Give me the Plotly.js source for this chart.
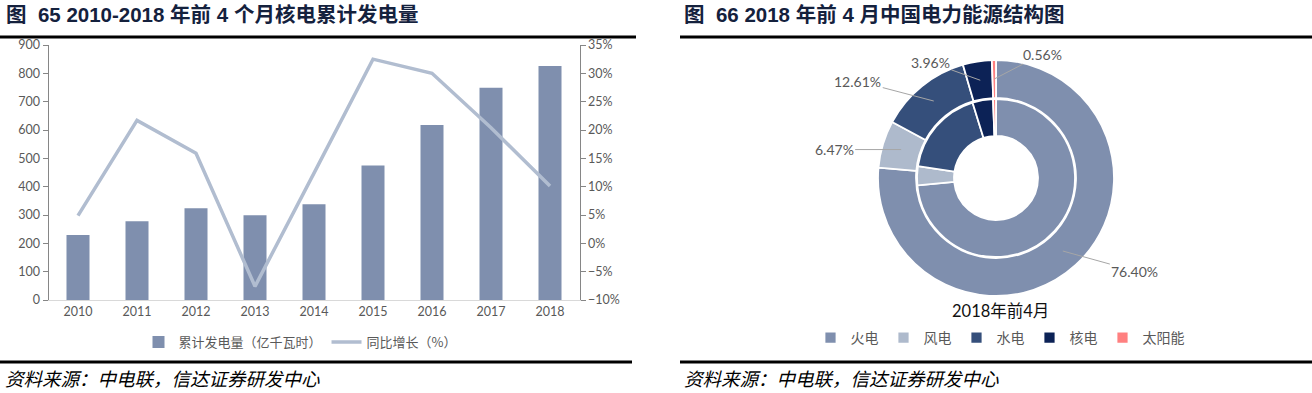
<!DOCTYPE html>
<html><head><meta charset="utf-8">
<script src="https://cdn.plot.ly/plotly-3.0.1.min.js"></script>
<style>html,body{margin:0;padding:0;background:#fff;}#chart{width:1312px;height:393px;}</style>
</head><body><div id="chart"></div>
<script>
// ---- data ----
const years = ['2010','2011','2012','2013','2014','2015','2016','2017','2018'];
const generation = [229, 278, 324, 299, 338, 475, 618, 749, 826];   // 亿千瓦时
const growth = [4.9, 21.7, 15.9, -7.6, 12.4, 32.5, 30.0, 20.4, 10.1]; // %
const sources = ['火电','风电','水电','核电','太阳能'];
const shareOuter = [76.40, 6.47, 12.61, 3.96, 0.56];
const shareInner = [73.5, 3.9, 17.8, 4.2, 0.6];
const barName = '累计发电量（亿千瓦时）';
const lineName = '同比增长（%）';
const leftTitle = '图  65 2010-2018 年前 4 个月核电累计发电量';
const rightTitle = '图  66 2018 年前 4 月中国电力能源结构图';
const pieSubtitle = '2018年前4月';
const sourceNote = '资料来源：中电联，信达证券研发中心';

// ---- style ----
const W = 1312, H = 393;
const sliceColors = ['#7f8fae', '#aebacc', '#354f7b', '#0c2256', '#ff8080'];
const cx = 996, cy = 178, rOut = 118, rMid = 80, rIn = 42;
const labelOffsets = [[72, 20], [-67, 0], [-76, -20], [-50, -18], [48, -25]];
const tickFont = {family: 'Lato, Liberation Sans, sans-serif', size: 12.5, color: '#595959'};
const px = x => x / W, py = y => 1 - y / H;

const traces = [
  {type: 'bar', x: years, y: generation, name: barName, marker: {color: '#7f8fae'},
   xaxis: 'x', yaxis: 'y', legend: 'legend'},
  {type: 'scatter', mode: 'lines', x: years, y: growth, name: lineName,
   line: {color: '#b1bdd0', width: 3.5}, xaxis: 'x', yaxis: 'y2', legend: 'legend'},
  {type: 'pie', labels: sources, values: shareOuter, sort: false, direction: 'clockwise', rotation: 0,
   hole: rMid / rOut, textinfo: 'none', hoverinfo: 'label+value',
   marker: {colors: sliceColors, line: {color: '#ffffff', width: 1.8}},
   domain: {x: [px(cx - rOut), px(cx + rOut)], y: [py(cy + rOut), py(cy - rOut)]},
   legend: 'legend2', showlegend: true},
  {type: 'pie', labels: sources, values: shareInner, sort: false, direction: 'clockwise', rotation: 0,
   hole: rIn / (rMid - 1), textinfo: 'none', hoverinfo: 'label+value',
   marker: {colors: sliceColors, line: {color: '#ffffff', width: 1.8}},
   domain: {x: [px(cx - rMid + 1), px(cx + rMid - 1)], y: [py(cy + rMid - 1), py(cy - rMid + 1)]},
   legend: 'legend2', showlegend: true}
];

// pie percentage labels, positioned from the data's slice angles
const annotations = [];
let cum = 0;
const total = shareOuter.reduce((a, b) => a + b, 0);
shareOuter.forEach((v, i) => {
  const theta = 2 * Math.PI * (cum + v / 2) / total;
  cum += v;
  const r = (rOut + rMid) / 2;
  annotations.push({
    xref: 'paper', yref: 'paper',
    x: px(cx + r * Math.sin(theta)), y: py(cy - r * Math.cos(theta)),
    ax: labelOffsets[i][0], ay: labelOffsets[i][1],
    text: v.toFixed(2) + '%', showarrow: true, arrowhead: 0, arrowwidth: 1, arrowcolor: '#a6a6a6',
    standoff: 0, font: {family: 'Lato, Liberation Sans, sans-serif', size: 14, color: '#595959'}
  });
});
const titleFont = {family: 'Liberation Sans, Noto Sans CJK SC', size: 20.5, color: '#14213d'};
const noteFont = {family: 'Noto Sans CJK SC', size: 18.5, color: '#000000', style: 'italic'};
annotations.push(
  {xref: 'paper', yref: 'paper', x: px(4), y: py(15), xanchor: 'left', yanchor: 'middle', showarrow: false,
   text: '<b>' + leftTitle + '</b>', font: titleFont},
  {xref: 'paper', yref: 'paper', x: px(682), y: py(15), xanchor: 'left', yanchor: 'middle', showarrow: false,
   text: '<b>' + rightTitle + '</b>', font: titleFont},
  {xref: 'paper', yref: 'paper', x: px(1000), y: py(311), xanchor: 'center', yanchor: 'middle', showarrow: false,
   text: pieSubtitle, font: {family: 'Lato, Noto Sans CJK SC', size: 16.5, color: '#111111'}},
  {xref: 'paper', yref: 'paper', x: px(3), y: py(378), xanchor: 'left', yanchor: 'middle', showarrow: false,
   text: '<i>' + sourceNote + '</i>', font: noteFont},
  {xref: 'paper', yref: 'paper', x: px(682), y: py(378), xanchor: 'left', yanchor: 'middle', showarrow: false,
   text: '<i>' + sourceNote + '</i>', font: noteFont}
);

const shapes = [
  {type: 'line', xref: 'paper', yref: 'paper', x0: 0, x1: px(636), y0: py(37), y1: py(37), line: {color: '#000', width: 3}},
  {type: 'line', xref: 'paper', yref: 'paper', x0: px(680), x1: 1, y0: py(37), y1: py(37), line: {color: '#000', width: 3}},
  {type: 'line', xref: 'paper', yref: 'paper', x0: 0, x1: px(632), y0: py(362), y1: py(362), line: {color: '#000', width: 3}},
  {type: 'line', xref: 'paper', yref: 'paper', x0: px(680), x1: 1, y0: py(362), y1: py(362), line: {color: '#000', width: 3}}
];

const layout = {
  width: W, height: H, margin: {l: 0, r: 0, t: 0, b: 0},
  paper_bgcolor: '#fff', plot_bgcolor: '#fff',
  bargap: 0.61,
  xaxis: {domain: [px(48.5), px(579.5)], type: 'category', showgrid: false, zeroline: false,
          showline: true, linecolor: '#d9d9d9', linewidth: 1, ticks: '', tickfont: tickFont, anchor: 'y'},
  yaxis: {domain: [py(300), py(45)], range: [0, 900], dtick: 100, showgrid: false, zeroline: false,
          showline: true, linecolor: '#868686', ticks: 'outside', ticklen: 5, tickcolor: '#868686',
          tickfont: tickFont, anchor: 'x'},
  yaxis2: {overlaying: 'y', side: 'right', range: [-10, 35], dtick: 5, ticksuffix: '%', showgrid: false,
           zeroline: false, showline: true, linecolor: '#868686', ticks: 'outside', ticklen: 5,
           tickcolor: '#868686', tickfont: tickFont, anchor: 'x'},
  legend: {orientation: 'h', x: px(300), xanchor: 'center', y: py(342), yanchor: 'middle', itemwidth: 30,
           font: {family: 'Noto Sans CJK SC', size: 13, color: '#595959'}, bgcolor: 'rgba(0,0,0,0)'},
  legend2: {orientation: 'h', x: px(1000), xanchor: 'center', y: py(338), yanchor: 'middle', itemwidth: 30,
            font: {family: 'Noto Sans CJK SC', size: 14, color: '#595959'}, bgcolor: 'rgba(0,0,0,0)'},
  annotations: annotations, shapes: shapes, showlegend: true
};

Plotly.newPlot('chart', traces, layout, {displayModeBar: false, staticPlot: true});
</script></body></html>
